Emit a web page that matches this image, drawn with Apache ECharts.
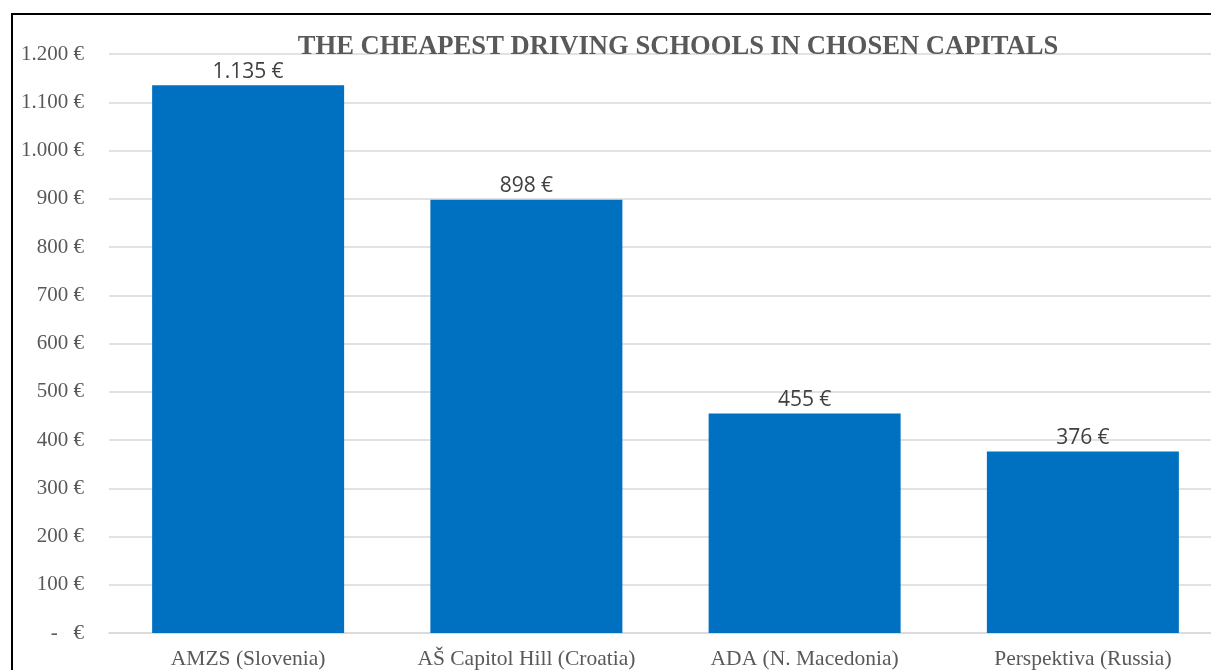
<!DOCTYPE html>
<html>
<head>
<meta charset="utf-8">
<script src="https://cdn.jsdelivr.net/npm/echarts@6/dist/echarts.min.js"></script>
<style>
  html, body { margin: 0; padding: 0; background: #fff; overflow: hidden; }
  /* chart runs a little past the right edge, like the cropped original */
  #chart { width: 1230px; height: 670px; }
</style>
</head>
<body>
<div id="chart"></div>
<script>
// data
var schools = ["AMZS (Slovenia)", "AŠ Capitol Hill (Croatia)", "ADA (N. Macedonia)", "Perspektiva (Russia)"];
var prices = [1135, 898, 455, 376];

// 1.135 € style formatting
function euro(v) {
  if (v === 0) return "-   €";
  return String(v).replace(/\B(?=(\d{3})+(?!\d))/g, ".") + " €";
}

var chart = echarts.init(document.getElementById("chart"));
var option = {
  animation: false,
  title: {
    text: "THE CHEAPEST DRIVING SCHOOLS IN CHOSEN CAPITALS",
    left: 673,
    textAlign: "center",
    top: 29,
    textStyle: {
      fontFamily: "Liberation Serif",
      fontWeight: "bold",
      fontSize: 26.6,
      color: "#595959"
    }
  },
  graphic: [
    {
      type: "rect",
      shape: { x: 12, y: 14, width: 1400, height: 900 },
      style: { fill: "none", stroke: "#000", lineWidth: 2 },
      z: 100
    }
  ],
  grid: { left: 109, right: 8, top: 54, bottom: 33 },
  xAxis: {
    type: "category",
    data: schools,
    axisTick: { show: false },
    axisLine: { lineStyle: { color: "#d9d9d9", width: 1.5 } },
    axisLabel: {
      interval: 0,
      color: "#595959",
      fontFamily: "Liberation Serif",
      fontSize: 21.5,
      margin: 15
    }
  },
  yAxis: {
    type: "value",
    min: 0,
    max: 1200,
    interval: 100,
    axisLine: { show: false },
    axisTick: { show: false },
    splitLine: { lineStyle: { color: "#d9d9d9", width: 1.5 } },
    axisLabel: {
      color: "#595959",
      fontFamily: "Liberation Serif",
      fontSize: 21,
      margin: 25,
      formatter: euro
    }
  },
  series: [
    {
      type: "bar",
      data: prices,
      barCategoryGap: "31%",
      itemStyle: { color: "#0070C0" },
      label: {
        show: true,
        position: "top",
        distance: 3,
        color: "#404040",
        fontFamily: "Open Sans",
        fontSize: 21,
        formatter: function (p) { return euro(p.value); }
      }
    }
  ]
};
chart.setOption(option);
</script>
</body>
</html>
